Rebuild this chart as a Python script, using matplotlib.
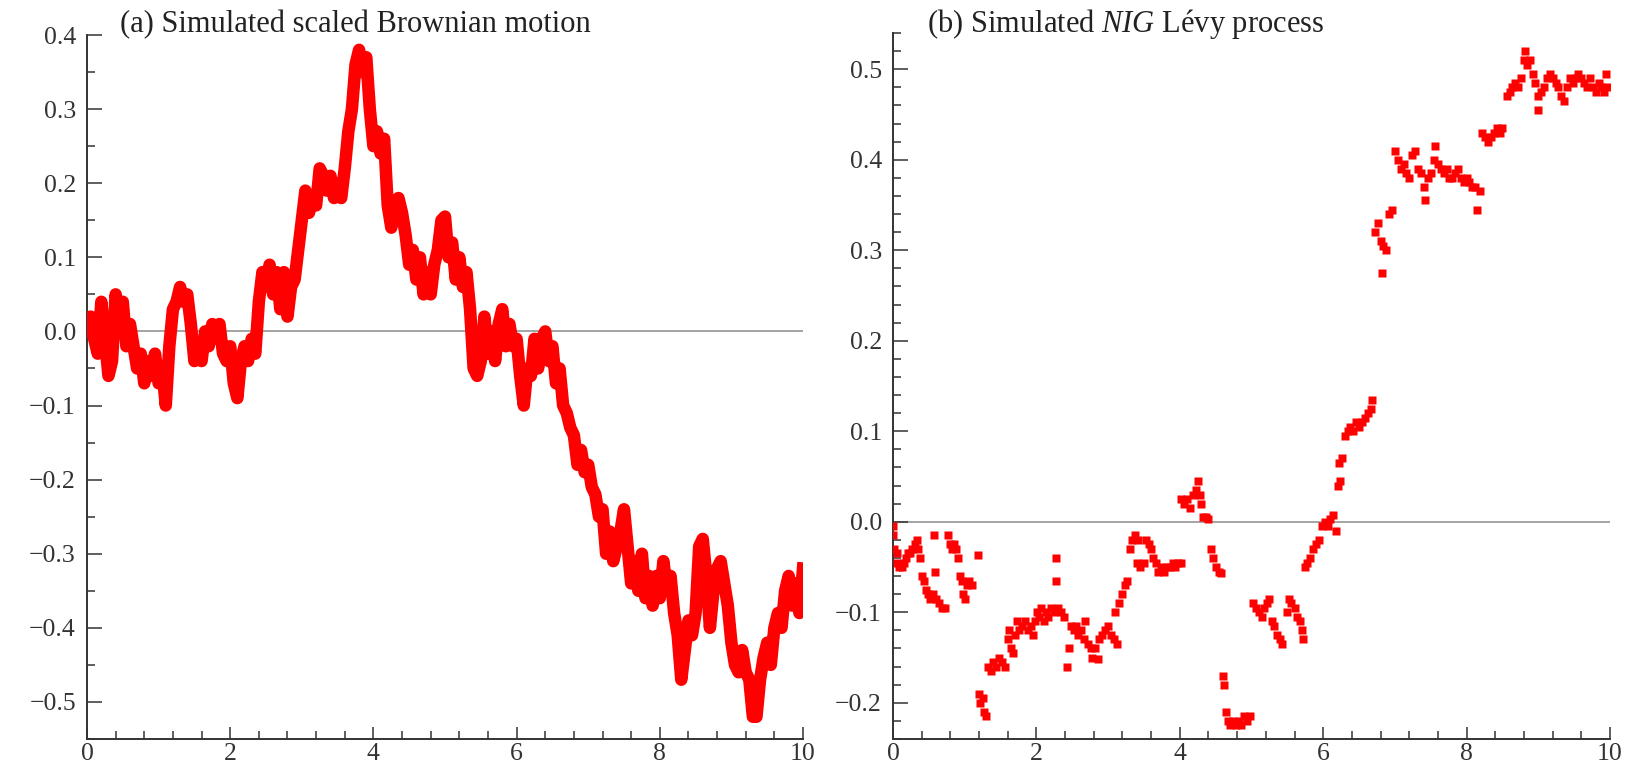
import numpy as np
import matplotlib
matplotlib.use('Agg')
from matplotlib import pyplot as plt
from matplotlib.ticker import MultipleLocator, FuncFormatter

plt.rcParams['font.family'] = ['Liberation Serif', 'DejaVu Serif']
plt.rcParams['mathtext.fontset'] = 'custom'
plt.rcParams['mathtext.rm'] = 'Liberation Serif'
plt.rcParams['mathtext.it'] = 'Liberation Serif:italic'

# (a) scaled Brownian motion, sampled every 0.05 on [0, 10]
bm_t = np.arange(201) * 0.05
bm_x = [
    0.00, 0.02, -0.01, -0.03, 0.04, -0.01, -0.06, -0.04, 0.05, 0.02,
    0.04, -0.02, 0.01, -0.02, -0.05, -0.03, -0.07, -0.04, -0.06, -0.03,
    -0.07, -0.05, -0.10, -0.02, 0.03, 0.04, 0.06, 0.04, 0.05, 0.01,
    -0.04, -0.02, -0.04, 0.00, -0.02, 0.01, -0.01, 0.01, -0.03, -0.04,
    -0.02, -0.07, -0.09, -0.04, -0.02, -0.04, -0.01, -0.03, 0.04, 0.08,
    0.06, 0.09, 0.05, 0.08, 0.03, 0.08, 0.02, 0.06, 0.07, 0.11,
    0.15, 0.19, 0.16, 0.18, 0.17, 0.22, 0.21, 0.19, 0.21, 0.18,
    0.20, 0.18, 0.22, 0.27, 0.30, 0.36, 0.38, 0.35, 0.37, 0.30,
    0.25, 0.27, 0.24, 0.26, 0.17, 0.14, 0.17, 0.18, 0.16, 0.13,
    0.09, 0.11, 0.07, 0.10, 0.05, 0.08, 0.05, 0.09, 0.11, 0.15,
    0.155, 0.10, 0.12, 0.07, 0.10, 0.06, 0.08, 0.03, -0.05, -0.06,
    -0.04, 0.02, -0.03, 0.00, -0.04, 0.01, 0.03, -0.02, 0.01, -0.02,
    -0.01, -0.06, -0.10, -0.05, -0.06, -0.01, -0.05, -0.01, 0.00, -0.04,
    -0.02, -0.07, -0.05, -0.10, -0.11, -0.13, -0.14, -0.18, -0.16, -0.19,
    -0.18, -0.21, -0.22, -0.25, -0.24, -0.30, -0.27, -0.31, -0.29, -0.27,
    -0.24, -0.29, -0.34, -0.31, -0.35, -0.30, -0.36, -0.33, -0.37, -0.33,
    -0.36, -0.31, -0.35, -0.33, -0.38, -0.41, -0.47, -0.43, -0.39, -0.41,
    -0.38, -0.29, -0.28, -0.33, -0.40, -0.35, -0.32, -0.31, -0.34, -0.37,
    -0.42, -0.45, -0.46, -0.43, -0.46, -0.47, -0.52, -0.52, -0.47, -0.44,
    -0.42, -0.45, -0.40, -0.38, -0.40, -0.35, -0.33, -0.37, -0.34, -0.38,
    -0.32,
]

# (b) NIG Levy process sample points
nig_t = [
    0.00, 0.00, 0.02, 0.05, 0.06, 0.09, 0.12, 0.15, 0.18, 0.21, 0.24, 0.27,
    0.30, 0.33, 0.35, 0.37, 0.40, 0.43, 0.46, 0.49, 0.52, 0.56, 0.60, 0.58,
    0.57, 0.64, 0.68, 0.72, 0.77, 0.79, 0.82, 0.85, 0.88, 0.91, 0.93, 0.96,
    0.98, 1.00, 1.03, 1.06, 1.10, 1.18,
    1.20, 1.22, 1.25, 1.27, 1.30, 1.33, 1.36, 1.40, 1.44, 1.48, 1.52, 1.56,
    1.60, 1.62, 1.64, 1.67, 1.70, 1.73, 1.76, 1.80, 1.84, 1.88, 1.92, 1.95,
    1.98, 2.01, 2.04, 2.07, 2.10, 2.13, 2.16, 2.20, 2.24, 2.27, 2.27, 2.30,
    2.34, 2.38, 2.42, 2.45, 2.48, 2.52,
    2.55, 2.58, 2.62, 2.66, 2.68, 2.72, 2.76, 2.78, 2.82, 2.86, 2.88, 2.92,
    2.96, 3.00, 3.04, 3.08, 3.12, 3.10, 3.15, 3.20, 3.24, 3.27, 3.30, 3.34,
    3.38, 3.42, 3.40, 3.45, 3.50, 3.53, 3.57, 3.60, 3.63, 3.67, 3.70, 3.74,
    3.78, 3.82, 3.86, 3.90, 3.94, 3.98, 4.02,
    4.02, 4.06, 4.10, 4.14, 4.18, 4.22, 4.26, 4.28, 4.30, 4.32, 4.36, 4.40,
    4.44, 4.47, 4.50, 4.54, 4.58, 4.60, 4.62, 4.64, 4.67, 4.70, 4.74, 4.78,
    4.82, 4.86, 4.90, 4.94, 4.98,
    5.02, 5.06, 5.10, 5.14, 5.18, 5.22, 5.25, 5.28, 5.32, 5.36, 5.40, 5.43,
    5.50, 5.52, 5.55, 5.60, 5.63, 5.67, 5.70, 5.72, 5.74, 5.78, 5.82, 5.86,
    5.90, 5.94, 5.98, 6.02, 6.06, 6.10, 6.14, 6.18, 6.20, 6.24, 6.22, 6.26,
    6.30, 6.34, 6.38, 6.42, 6.46, 6.50, 6.54, 6.58, 6.62, 6.66, 6.68,
    6.72, 6.76, 6.80, 6.84, 6.88, 6.82, 6.92, 6.96, 7.00, 7.04, 7.08, 7.12,
    7.16, 7.20, 7.24, 7.28, 7.32, 7.36, 7.40, 7.42, 7.46, 7.50, 7.54, 7.56,
    7.60, 7.64, 7.68, 7.72, 7.76, 7.80, 7.84, 7.88, 7.92, 7.96, 8.00, 8.04,
    8.08, 8.12, 8.14, 8.18, 8.22, 8.26, 8.30, 8.34, 8.38, 8.42, 8.46, 8.50,
    8.56, 8.60, 8.64, 8.68, 8.72, 8.76, 8.80, 8.82, 8.84, 8.88, 8.92, 8.96,
    9.00, 9.00, 9.04, 9.08, 9.12, 9.16, 9.20, 9.24, 9.28, 9.32, 9.36, 9.40,
    9.44, 9.48, 9.52, 9.56, 9.60, 9.64, 9.68, 9.72, 9.76, 9.80, 9.84, 9.88,
    9.92, 9.96, 9.94,
]
nig_x = [
    -0.005, -0.015, -0.03, -0.035, -0.045, -0.05, -0.05, -0.045, -0.04, -0.035, -0.035, -0.03,
    -0.025, -0.02, -0.03, -0.04, -0.06, -0.065, -0.075, -0.08, -0.085, -0.08, -0.085, -0.055,
    -0.015, -0.09, -0.095, -0.095, -0.015, -0.025, -0.03, -0.025, -0.03, -0.04, -0.06, -0.065,
    -0.08, -0.085, -0.07, -0.065, -0.07, -0.037,
    -0.19, -0.20, -0.195, -0.21, -0.215, -0.16, -0.165, -0.155, -0.16, -0.15, -0.155, -0.16,
    -0.13, -0.12, -0.14, -0.145, -0.125, -0.11, -0.12, -0.115, -0.11, -0.12, -0.115, -0.125,
    -0.11, -0.10, -0.105, -0.095, -0.11, -0.10, -0.105, -0.095, -0.10, -0.04, -0.065, -0.095,
    -0.10, -0.105, -0.16, -0.14, -0.115, -0.12,
    -0.115, -0.125, -0.12, -0.13, -0.11, -0.135, -0.14, -0.15, -0.14, -0.152, -0.13, -0.125,
    -0.12, -0.115, -0.125, -0.13, -0.135, -0.10, -0.09, -0.08, -0.07, -0.065, -0.03, -0.02,
    -0.015, -0.02, -0.045, -0.05, -0.045, -0.02, -0.025, -0.03, -0.04, -0.045, -0.055, -0.05,
    -0.055, -0.05, -0.05, -0.045, -0.05, -0.045, -0.045,
    0.025, 0.02, 0.025, 0.015, 0.03, 0.035, 0.045, 0.03, 0.02, 0.005, 0.005, 0.003,
    -0.03, -0.04, -0.05, -0.055, -0.057, -0.17, -0.18, -0.21, -0.22, -0.225, -0.22, -0.225,
    -0.22, -0.225, -0.215, -0.22, -0.215,
    -0.09, -0.095, -0.10, -0.105, -0.095, -0.09, -0.085, -0.11, -0.115, -0.125, -0.13, -0.135,
    -0.10, -0.085, -0.09, -0.095, -0.105, -0.11, -0.12, -0.13, -0.05, -0.045, -0.04, -0.03,
    -0.025, -0.02, -0.005, 0.00, -0.005, 0.003, 0.008, -0.01, 0.04, 0.045, 0.065, 0.07,
    0.095, 0.10, 0.105, 0.10, 0.11, 0.105, 0.11, 0.115, 0.12, 0.125, 0.135,
    0.32, 0.33, 0.31, 0.305, 0.30, 0.275, 0.34, 0.345, 0.41, 0.40, 0.39, 0.395,
    0.385, 0.38, 0.405, 0.41, 0.39, 0.385, 0.37, 0.355, 0.38, 0.385, 0.40, 0.415,
    0.395, 0.39, 0.385, 0.39, 0.38, 0.38, 0.385, 0.39, 0.38, 0.375, 0.38, 0.375,
    0.37, 0.37, 0.345, 0.365, 0.43, 0.425, 0.42, 0.425, 0.43, 0.435, 0.43, 0.435,
    0.47, 0.475, 0.48, 0.485, 0.48, 0.49, 0.51, 0.52, 0.505, 0.51, 0.495, 0.485,
    0.47, 0.455, 0.475, 0.48, 0.49, 0.495, 0.49, 0.485, 0.48, 0.47, 0.465, 0.48,
    0.49, 0.485, 0.49, 0.495, 0.49, 0.485, 0.48, 0.49, 0.48, 0.475, 0.485, 0.48,
    0.475, 0.48, 0.495,
]

W, H = 1633, 769
fig = plt.figure(figsize=(W / 100, H / 100), dpi=100)
ax1 = fig.add_axes([87 / W, 30 / H, 716 / W, 704 / H])
ax2 = fig.add_axes([893 / W, 30 / H, 717 / W, 706 / H])


def fmt_y(v, pos):
    return f'{round(v, 1) + 0.0:.1f}'.replace('-', '\u2212')


def style(ax, ystep, yminor):
    for s in ['top', 'right']:
        ax.spines[s].set_visible(False)
    for s in ['left', 'bottom']:
        ax.spines[s].set_linewidth(1.4)
        ax.spines[s].set_color('#333333')
    ax.set_xlim(0, 10)
    ax.xaxis.set_major_locator(MultipleLocator(2))
    ax.xaxis.set_minor_locator(MultipleLocator(0.4))
    ax.yaxis.set_major_locator(MultipleLocator(ystep))
    ax.yaxis.set_minor_locator(MultipleLocator(yminor))
    ax.yaxis.set_major_formatter(FuncFormatter(fmt_y))
    ax.tick_params(which='both', direction='in', color='#333333',
                   labelcolor='#333333', labelsize=18.5, width=1.1)
    ax.tick_params(axis='y', which='major', length=10.5, pad=8)
    ax.tick_params(axis='y', which='minor', length=6)
    ax.tick_params(axis='x', which='major', length=9, pad=3)
    ax.tick_params(axis='x', which='minor', length=5.5)
    ax.axhline(0, color='#8c8c8c', lw=1.1, zorder=1)


style(ax1, 0.1, 0.05)
ax1.set_ylim(-0.55, 0.4)
ax1.plot(bm_t, bm_x, color='red', lw=9, solid_joinstyle='round', zorder=3)

style(ax2, 0.1, 0.02)
ax2.set_ylim(-0.24, 0.54)
ax2.plot(nig_t, nig_x, 's', color='red', ms=6.2, mec='none', zorder=3)

fig.text(120 / W, 1 - 32 / H, '(a) Simulated scaled Brownian motion',
         fontsize=22, color='#222222', va='baseline')
fig.text(927 / W, 1 - 32 / H, '(b) Simulated $NIG$ Lévy process',
         fontsize=22, color='#222222', va='baseline')

plt.savefig('out.png', dpi=100)
